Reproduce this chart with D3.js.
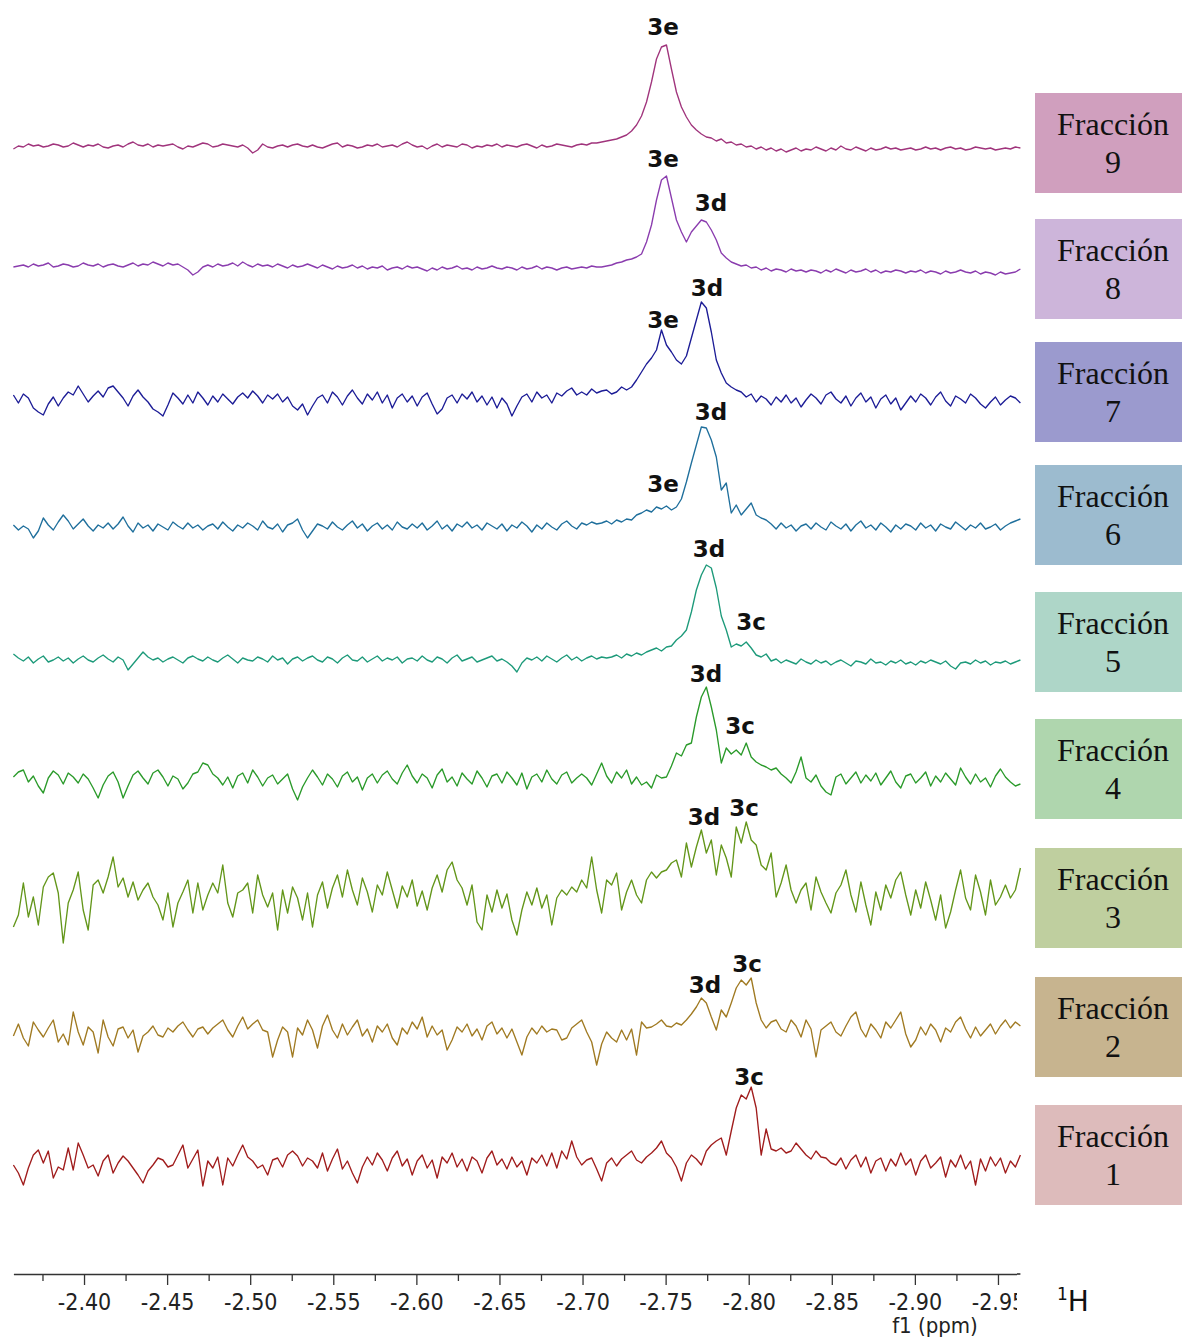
<!DOCTYPE html>
<html>
<head>
<meta charset="utf-8">
<script src="https://cdn.jsdelivr.net/npm/d3@7"></script>
<style>
  body { margin: 0; background: #fff; }
  svg { display: block; }
</style>
</head>
<body>
<svg id="chart" width="1182" height="1339"></svg>
<script>
// sampling grid of the spectra (ppm), one point every 0.003 ppm
const ppmStart = -2.3575;
const ppmStep = 0.003;
const nPoints = 203;

// intensities (arbitrary units), one array per fraction
const fraccion9 = [
  -2,1,0,3,1,2,0,1,3,2,0,1,4,2,0,2,1,3,0,-1,
  1,2,0,3,5,2,1,3,0,2,1,2,3,0,-2,1,0,2,4,3,
  0,1,3,2,1,0,2,-1,-6,-3,3,0,-1,1,2,0,2,3,1,0,
  2,0,-1,1,3,4,0,2,1,-1,0,2,1,3,0,1,2,0,3,5,
  2,0,1,-2,1,3,0,2,1,0,3,2,-1,1,0,2,1,3,0,2,
  1,0,2,3,1,-1,2,0,1,3,2,1,0,2,3,2,4,4,5,6,
  7,8,10,12,16,22,31,45,65,88,100,102,78,55,40,30,22,17,13,10,
  9,6,8,4,5,2,3,0,1,-2,0,-3,-1,-4,-2,-5,-3,-1,-4,-2,
  -3,0,-2,-4,-1,-3,1,-2,-3,0,-2,-4,-1,-3,-2,0,-2,-1,-3,-2,
  -1,-3,-2,0,-2,-1,-3,-1,0,-2,-1,-3,-2,0,-1,-2,-1,-3,-2,-1,
  -2,0,-1
];
const fraccion8 = [
  3,4,5,3,6,4,5,7,3,4,6,5,3,4,7,5,4,6,3,5,
  6,4,3,5,7,4,6,5,8,6,4,7,5,6,3,0,-5,-2,3,5,
  3,6,4,5,7,4,8,5,3,6,4,5,3,6,4,2,5,3,4,6,
  4,2,5,3,1,4,2,3,5,2,4,1,3,2,4,0,2,3,1,4,
  2,3,1,-1,2,0,3,1,2,4,1,2,0,3,1,2,4,2,1,3,
  2,0,3,1,2,4,1,3,2,0,2,3,1,2,3,2,4,3,3,4,
  5,7,8,10,11,13,16,28,45,70,90,94,72,50,38,28,38,44,50,48,
  40,30,17,12,8,6,4,5,2,3,0,2,-1,1,0,-2,1,-1,0,-2,
  0,-1,-3,0,-2,1,-1,-3,0,-2,-1,1,-2,0,-3,-1,-2,0,-1,-3,
  -1,-2,0,-3,-1,-2,-4,-1,-3,-2,0,-2,-3,-1,-4,-2,-3,-5,-2,-4,
  -3,-2,1
];
const fraccion7 = [
  5,-3,6,2,-8,-12,-15,-4,3,-6,2,8,5,14,6,-2,4,9,3,12,
  14,8,2,-6,4,10,3,-2,-9,-12,-16,-5,7,2,-4,5,-3,8,2,-5,
  4,-2,6,1,-4,3,7,2,9,4,-3,5,1,6,-2,3,-6,-10,-4,-15,
  -6,2,5,-3,8,3,-5,4,10,2,-4,6,0,8,-3,5,-8,2,6,-2,
  4,-6,3,7,-4,-14,-9,2,5,-3,6,1,8,-2,4,-5,3,-8,2,-4,
  -16,-6,3,6,-2,8,2,5,-3,7,4,9,12,5,8,5,11,7,9,10,
  6,8,13,10,13,20,28,36,42,50,70,55,48,40,36,44,62,80,98,92,
  68,40,27,17,13,10,8,3,6,-2,4,1,-5,3,-2,5,-3,2,-7,0,
  6,2,-4,5,8,1,-3,4,-6,2,7,-2,3,-8,1,5,-4,2,-10,-3,
  4,-2,6,2,-5,3,8,-1,-6,4,1,-3,6,2,-4,-8,-2,3,-5,0,
  4,2,-3
];
const fraccion6 = [
  2,-3,1,-2,-11,-4,9,2,-3,5,12,6,-2,3,8,1,-4,2,-1,4,
  -2,3,10,1,-5,4,-1,2,-4,3,0,-3,5,1,-2,4,-1,2,-3,1,
  3,-2,5,0,-4,2,-1,4,1,-3,6,0,-2,3,-5,2,4,8,-3,-11,
  -4,3,1,-2,5,0,-3,2,6,-1,3,-4,1,4,-2,2,-3,5,0,-2,
  3,-1,4,-3,1,6,-2,2,-4,3,0,5,-1,2,-3,4,1,-2,3,-4,
  2,-1,5,1,-5,2,-2,4,0,-3,3,6,1,-2,4,2,5,3,4,6,
  3,7,5,8,7,12,14,17,15,20,18,21,17,20,28,45,64,82,100,99,
  87,70,37,44,14,22,12,18,24,12,9,7,3,-2,4,-1,2,-4,1,3,
  -2,4,0,-3,5,1,-2,3,-4,2,6,-1,2,-3,4,0,-5,2,-2,3,
  1,-3,4,-1,2,-4,3,0,-2,5,1,-3,2,-1,4,-2,0,3,-3,1,
  4,6,8
];
const fraccion5 = [
  6,2,-1,3,-3,1,4,-2,0,3,-1,2,-3,1,4,0,-2,2,5,1,
  -2,3,0,-10,-4,2,8,3,0,2,-2,1,3,0,-3,2,4,1,-1,3,
  0,-2,2,5,1,-3,2,0,-1,3,1,-2,4,0,2,-4,1,3,-1,2,
  4,0,-2,3,1,-3,2,5,0,-1,3,-2,1,4,-1,2,0,3,-3,1,
  2,-1,4,0,-2,3,1,-3,2,5,-1,1,3,-2,0,2,4,-1,1,-2,
  -6,-12,-3,2,0,3,-1,4,1,-2,2,5,0,3,-1,2,4,1,3,2,
  3,5,2,6,4,7,5,8,10,12,9,13,14,20,24,30,48,70,85,95,
  92,72,44,30,13,16,14,18,12,5,3,6,-1,1,-3,0,-2,-4,1,-2,
  -4,0,-3,-1,-5,-2,0,-3,-6,-1,-2,-4,1,-3,-2,-5,-1,-3,0,-4,
  -2,-5,-1,-3,0,-2,-4,-1,-6,-9,-3,-2,-4,0,-3,-1,-5,-2,-3,-1,
  -4,-2,0
];
const fraccion4 = [
  3,8,10,-2,4,-6,-13,2,9,5,-4,7,3,-3,6,1,-8,-18,-5,4,
  8,-2,-18,-6,5,9,2,-4,7,10,3,-6,4,1,-9,-3,6,8,17,15,
  6,2,-5,3,-8,4,7,-3,10,3,-6,2,5,-4,1,6,-9,-20,-7,2,
  10,3,-5,6,1,-7,4,8,-2,3,-10,2,6,-3,5,9,1,-4,7,15,
  4,-3,6,2,-8,5,11,-2,3,-6,7,1,-4,9,2,-7,4,6,-3,8,
  2,-5,7,-9,3,6,-2,10,1,-4,5,8,-3,2,6,2,-5,6,17,4,
  -3,8,2,10,-4,3,-5,-2,-8,5,2,3,14,27,24,35,37,63,83,93,
  73,50,17,32,26,30,25,37,23,18,15,13,10,12,6,2,-3,8,23,2,
  -2,5,-6,-12,-15,3,6,-4,2,8,-3,5,-1,7,-5,2,9,-2,-8,4,
  6,-3,2,8,-6,4,-2,7,1,-5,12,3,-4,6,-2,2,-7,4,11,3,
  -2,-6,-4
];
const fraccion3 = [
  -27,-15,17,-17,3,-25,13,23,27,7,-43,-3,10,28,-10,-30,15,20,7,23,
  43,13,22,3,18,0,10,17,3,-5,-20,7,-27,-3,8,20,-13,17,-10,5,
  17,7,35,-3,-17,7,10,17,-13,25,5,-7,7,-30,10,-13,13,2,-20,7,
  -27,5,18,-8,12,25,3,30,10,-5,22,8,-12,15,5,28,10,-8,14,3,
  20,-6,9,-10,12,25,8,30,38,20,12,-5,15,-22,-30,5,-12,10,-8,6,
  -20,-35,-10,8,-5,12,-8,5,-25,2,10,5,13,8,20,12,43,10,-13,20,
  15,27,-10,8,20,5,-3,20,28,22,28,30,37,40,23,57,33,53,70,47,
  60,25,55,42,23,73,57,78,60,55,35,30,47,3,17,35,10,-3,10,17,
  -10,23,8,-3,-13,7,15,30,5,-12,18,-5,-25,8,-10,15,2,20,28,5,
  -15,10,-8,18,0,-20,5,-28,-12,10,30,2,-10,25,8,-15,20,-5,3,15,
  2,10,32
];
const fraccion2 = [
  -4,8,-6,-14,10,2,-5,4,12,-10,-2,-13,20,0,-13,5,0,-21,12,-5,
  -14,3,5,-6,2,-20,-4,0,6,-3,-5,4,0,6,10,2,-5,3,5,-2,
  4,8,12,2,-5,6,15,3,8,12,2,0,-25,-8,5,0,-25,4,-3,12,
  2,-16,6,17,2,-6,8,-3,5,12,-4,3,-10,6,0,8,-6,-13,4,-2,
  10,3,15,-5,6,-3,2,-18,-8,5,0,8,-4,3,-8,6,10,-2,4,-6,
  3,-10,-23,-5,4,-2,6,0,3,2,-8,-6,4,8,12,0,-10,-33,-12,0,
  -6,-10,2,-8,3,-23,10,4,5,8,12,6,5,9,7,12,18,25,34,29,
  15,2,22,15,29,44,52,47,54,29,12,4,10,12,3,0,12,6,-5,12,
  3,-25,2,6,10,0,-4,6,15,20,3,-5,8,2,-6,10,4,12,20,-2,
  -15,-8,5,-3,8,2,-10,4,0,10,15,3,-6,5,-4,2,8,-2,6,12,
  4,10,6
];
const fraccion1 = [
  -2,-10,-22,-5,8,13,0,12,-15,-4,-7,15,-7,20,8,-5,-2,-13,2,8,
  -10,0,7,2,-5,-12,-20,-8,-2,5,3,-4,-2,8,18,-5,4,13,-23,2,
  -5,6,-22,5,-3,8,18,6,2,-5,-2,-12,3,5,-4,8,12,7,-3,5,
  2,-5,10,-8,4,14,-6,2,-10,-20,-4,6,-2,10,3,-8,5,12,-3,4,
  -12,2,8,-5,3,-15,6,0,10,-4,4,-8,6,2,-10,5,12,-2,4,-6,
  6,-4,2,-12,5,0,8,-3,10,-5,12,4,22,6,-2,3,5,-6,-18,0,
  5,-3,4,8,12,3,0,6,10,15,22,10,5,-4,-18,0,8,4,-2,12,
  18,22,25,8,32,55,68,64,76,55,8,34,14,12,15,10,12,20,14,8,
  4,12,6,5,0,-2,5,-6,3,8,-4,6,-10,2,5,-8,4,-3,10,-2,
  4,-12,2,8,-5,0,6,-14,3,-4,8,-6,2,-22,4,-8,6,-3,5,-10,
  2,-4,8
];

const fractionNames = ['9', '8', '7', '6', '5', '4', '3', '2', '1'];
const fractionData = [fraccion9, fraccion8, fraccion7, fraccion6, fraccion5,
                      fraccion4, fraccion3, fraccion2, fraccion1];

// peak labels: fraction, label, ppm and height (same units as the spectra)
const peakLabels = [
  { f: '9', label: '3e', ppm: -2.7484, h: 112 },
  { f: '8', label: '3e', ppm: -2.7484, h: 103 },
  { f: '8', label: '3d', ppm: -2.7773, h: 59 },
  { f: '7', label: '3d', ppm: -2.7749, h: 104 },
  { f: '7', label: '3e', ppm: -2.7484, h: 72 },
  { f: '6', label: '3d', ppm: -2.7773, h: 107 },
  { f: '6', label: '3e', ppm: -2.7484, h: 35 },
  { f: '5', label: '3d', ppm: -2.7761, h: 103 },
  { f: '5', label: '3c', ppm: -2.8014, h: 30 },
  { f: '4', label: '3d', ppm: -2.7743, h: 98 },
  { f: '4', label: '3c', ppm: -2.7948, h: 46 },
  { f: '3', label: '3d', ppm: -2.7731, h: 75 },
  { f: '3', label: '3c', ppm: -2.7972, h: 84 },
  { f: '2', label: '3d', ppm: -2.7737, h: 39 },
  { f: '2', label: '3c', ppm: -2.7990, h: 60 },
  { f: '1', label: '3c', ppm: -2.8002, h: 78 }
];

const majorTicks = [-2.40, -2.45, -2.50, -2.55, -2.60, -2.65, -2.70, -2.75, -2.80, -2.85, -2.90, -2.95];
const minorTicks = [-2.375, -2.425, -2.475, -2.525, -2.575, -2.625, -2.675, -2.725, -2.775, -2.825, -2.875, -2.925];

const lineColors = ['#a0347c', '#8a3cae', '#1c1c96', '#1f6f9c', '#1d9a7a', '#2a9a2a', '#63961a', '#a07a22', '#a01c1c'];
const boxColors = ['#d09fbe', '#cdb5da', '#9b9ace', '#9cbbcf', '#aed6c8', '#afd6ae', '#bfcf9f', '#c7b48f', '#ddbbbb'];

// layout
const width = 1182;
const height = 1339;
const baselineY = { 9: 147, 8: 270, 7: 400, 6: 527, 5: 660, 4: 780, 3: 900, 2: 1032, 1: 1163 };
const boxTop = { 9: 93, 8: 219, 7: 342, 6: 465, 5: 592, 4: 719, 3: 848, 2: 977, 1: 1105 };
const axisY = 1274;

const ppm = d3.range(nPoints).map(i => ppmStart - i * ppmStep);

const svg = d3.select('#chart').attr('width', width).attr('height', height);

const x = d3.scaleLinear()
  .domain([ppmStart, ppmStart - (nPoints - 1) * ppmStep])
  .range([13.4, 1020.4]);

const yInt = d3.scaleLinear().domain([0, 100]).range([0, -100]);

const line = d3.line()
  .x((d, i) => x(ppm[i]))
  .y(d => yInt(d));

// spectra
const spectra = svg.append('g')
  .selectAll('g')
  .data(fractionNames)
  .join('g')
  .attr('transform', f => `translate(0,${baselineY[f]})`);

spectra.append('path')
  .attr('d', (f, i) => line(fractionData[i]))
  .attr('fill', 'none')
  .attr('stroke', (f, i) => lineColors[i])
  .attr('stroke-width', 1.35)
  .attr('stroke-linejoin', 'round');

// peak labels
svg.append('g')
  .selectAll('text')
  .data(peakLabels)
  .join('text')
  .attr('x', d => x(d.ppm))
  .attr('y', d => baselineY[d.f] + yInt(d.h))
  .attr('text-anchor', 'middle')
  .style('font-family', '"DejaVu Sans", sans-serif')
  .style('font-weight', 'bold')
  .style('font-size', '23px')
  .attr('fill', '#111')
  .text(d => d.label);

// fraction boxes
const boxes = svg.append('g')
  .selectAll('g')
  .data(fractionNames)
  .join('g')
  .attr('transform', f => `translate(1035,${boxTop[f]})`);

boxes.append('rect')
  .attr('width', 147)
  .attr('height', 100)
  .attr('fill', (f, i) => boxColors[i]);

boxes.append('text')
  .attr('x', 78)
  .attr('y', 42)
  .attr('text-anchor', 'middle')
  .style('font-family', '"Liberation Serif", "Times New Roman", serif')
  .style('font-size', '32px')
  .attr('fill', '#111')
  .text('Fracción');

boxes.append('text')
  .attr('x', 78)
  .attr('y', 80)
  .attr('text-anchor', 'middle')
  .style('font-family', '"Liberation Serif", "Times New Roman", serif')
  .style('font-size', '32px')
  .attr('fill', '#111')
  .text(f => f);

// x axis
svg.append('clipPath').attr('id', 'axis-clip')
  .append('rect').attr('x', 0).attr('y', axisY - 20).attr('width', 1017).attr('height', 80);

const axisFont = '"DejaVu Sans Condensed", "DejaVu Sans", sans-serif';

const axisG = svg.append('g')
  .attr('clip-path', 'url(#axis-clip)');

axisG.append('g')
  .attr('transform', `translate(0,${axisY})`)
  .call(d3.axisBottom(x).tickValues(minorTicks).tickSize(7).tickSizeOuter(0).tickFormat(''))
  .call(g => g.select('.domain').remove())
  .call(g => g.selectAll('line').attr('stroke', '#333').attr('stroke-width', 1.3));

axisG.append('g')
  .attr('transform', `translate(0,${axisY})`)
  .call(d3.axisBottom(x).tickValues(majorTicks).tickSize(11).tickSizeOuter(0).tickFormat(d => d.toFixed(2)))
  .call(g => g.select('.domain').attr('stroke', '#333').attr('stroke-width', 1.6))
  .call(g => g.selectAll('line').attr('stroke', '#333').attr('stroke-width', 1.3))
  .call(g => g.selectAll('text')
    .attr('y', 20)
    .attr('fill', '#222')
    .style('font-family', axisFont)
    .style('font-size', '23px'));

// the axis line itself runs to the end of the spectra
svg.append('line')
  .attr('x1', 1017).attr('x2', x.range()[1])
  .attr('y1', axisY).attr('y2', axisY)
  .attr('stroke', '#333').attr('stroke-width', 1.6);

svg.append('text')
  .attr('x', 935)
  .attr('y', 1333)
  .attr('text-anchor', 'middle')
  .style('font-family', axisFont)
  .style('font-size', '22px')
  .attr('fill', '#222')
  .text('f1 (ppm)');

const nucleus = svg.append('text')
  .attr('x', 1057)
  .attr('y', 1311)
  .style('font-family', '"DejaVu Sans", sans-serif')
  .attr('fill', '#111');
nucleus.append('tspan').style('font-size', '17px').attr('dy', -11).text('1');
nucleus.append('tspan').style('font-size', '28px').attr('dy', 11).text('H');
</script>
</body>
</html>
